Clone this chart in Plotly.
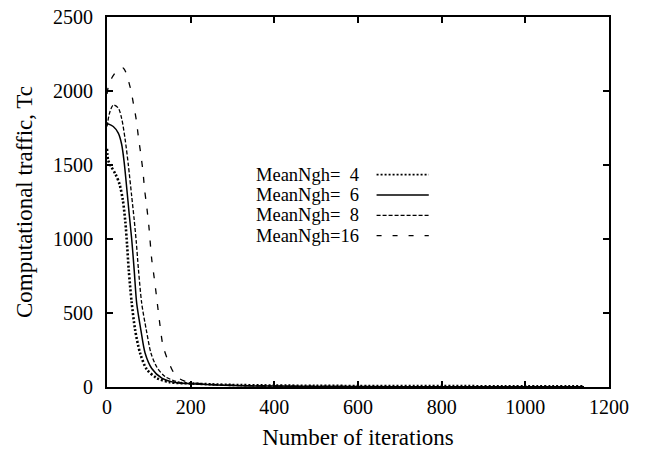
import plotly.graph_objects as go

# ---- data ----
x_ngh4 = [0, 3, 10, 20, 30, 38, 44, 48, 52, 59, 67, 79, 95, 119, 150, 200, 250, 300, 400, 500, 600, 800, 1000, 1140]
y_ngh4 = [1610, 1530, 1490, 1440, 1370, 1260, 1110, 960, 790, 570, 390, 230, 120, 60, 32, 24, 18, 14, 10, 8, 7, 6, 5, 5]

x_ngh6 = [0, 15, 27, 35, 41, 47, 53, 59, 65, 71, 81, 91, 107, 131, 167, 200, 250, 300, 400, 500, 600, 800, 1000, 1140]
y_ngh6 = [1780, 1760, 1715, 1640, 1520, 1350, 1170, 1000, 790, 565, 385, 230, 125, 60, 28, 22, 15, 10, 6, 4, 3, 2, 2, 2]

x_ngh8 = [0, 7, 15, 27, 35, 43, 51, 59, 65, 70, 75, 83, 94, 105, 119, 139, 175, 200, 250, 300, 400, 500, 600, 800, 1000, 1140]
y_ngh8 = [1760, 1860, 1905, 1885, 1815, 1680, 1500, 1290, 1130, 980, 800, 565, 385, 230, 135, 70, 30, 24, 16, 11, 6, 4, 3, 2, 2, 2]

x_ngh16 = [0, 5, 14, 25, 39, 55, 63, 70, 75, 81, 86, 90, 95, 100, 107, 113, 118, 127, 134, 147, 163, 179, 200, 250, 300, 400, 500, 600, 800, 1000, 1140]
y_ngh16 = [1980, 2050, 2100, 2140, 2155, 2030, 1917, 1804, 1691, 1568, 1455, 1331, 1218, 1090, 860, 735, 620, 410, 277, 171, 81, 47, 30, 18, 12, 6, 4, 3, 2, 2, 2]

series_names = ["MeanNgh=\u00a0\u00a04", "MeanNgh=\u00a0\u00a06", "MeanNgh=\u00a0\u00a08", "MeanNgh=16"]
x_ticks = [0, 200, 400, 600, 800, 1000, 1200]
y_ticks = [0, 500, 1000, 1500, 2000, 2500]

FONT = "Liberation Serif, Times New Roman, serif"

styles = [
    dict(width=2.6, dash="2px,2px"),
    dict(width=1.5, dash="solid"),
    dict(width=1.3, dash="4px,2px"),
    dict(width=1.3, dash="6px,10px"),
]
legend_styles = [
    dict(width=1.6, dash="2px,2px"),
    dict(width=1.6, dash="solid"),
    dict(width=1.3, dash="4px,2px"),
    dict(width=1.3, dash="5px,11px"),
]

fig = go.Figure()
for xs, ys, name, st in zip([x_ngh4, x_ngh6, x_ngh8, x_ngh16],
                            [y_ngh4, y_ngh6, y_ngh8, y_ngh16],
                            series_names, styles):
    fig.add_trace(go.Scatter(x=xs, y=ys, mode="lines", name=name,
                             line=dict(color="black", shape="spline", smoothing=0.8, **st),
                             showlegend=False))

# gnuplot-style key: text on the left, line sample on the right
row_y = [0.574, 0.519, 0.464, 0.409]
for name, ry, st in zip(series_names, row_y, legend_styles):
    fig.add_annotation(x=0.294, y=ry, xref="paper", yref="paper", text=name,
                       showarrow=False, xanchor="left", yanchor="middle", borderpad=0,
                       font=dict(family=FONT, size=18.5, color="black"))
    fig.add_shape(type="line", xref="paper", yref="paper", x0=0.537, x1=0.641,
                  y0=ry, y1=ry, line=dict(color="black", **st))

axis_common = dict(showline=True, linecolor="black", linewidth=2, mirror="allticks",
                   ticks="inside", ticklen=6, tickwidth=1.5, tickcolor="black",
                   showgrid=False, zeroline=False, automargin=False,
                   tickfont=dict(family=FONT, size=20, color="black"))

fig.update_xaxes(range=[0, 1200], tickvals=x_ticks, ticklabelstandoff=1,
                 title=dict(text="Number of iterations", standoff=18,
                            font=dict(family=FONT, size=23, color="black")),
                 **axis_common)
fig.update_yaxes(range=[0, 2500], tickvals=y_ticks, ticklabelstandoff=8,
                 title=dict(text="Computational traffic, Tc", standoff=14,
                            font=dict(family=FONT, size=23, color="black")),
                 **axis_common)

fig.update_layout(width=645, height=450, margin=dict(l=107, r=36, t=17, b=63),
                  paper_bgcolor="white", plot_bgcolor="white", showlegend=False)

fig.write_html("out.html")
